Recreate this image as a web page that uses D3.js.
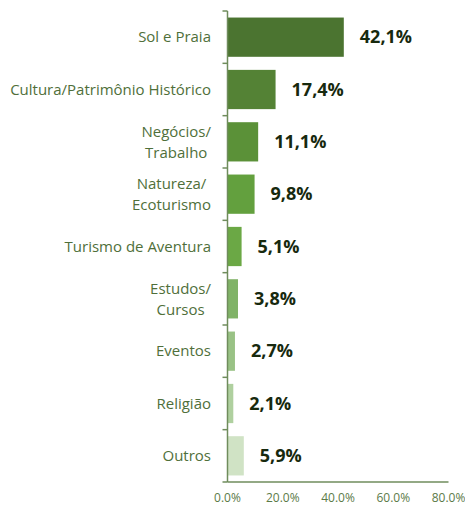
<!DOCTYPE html>
<html>
<head>
<meta charset="utf-8">
<script src="https://cdn.jsdelivr.net/npm/d3@7"></script>
<style>
  html, body { margin: 0; padding: 0; background: #fff; }
  svg { display: block; }
</style>
</head>
<body>
<svg id="chart" width="465" height="506"></svg>
<script>
// Motivação da viagem (% das respostas)
const categories = [
  ["Sol e Praia"],
  ["Cultura/Patrimônio Histórico"],
  ["Negócios/", "Trabalho"],
  ["Natureza/", "Ecoturismo"],
  ["Turismo de Aventura"],
  ["Estudos/", "Cursos"],
  ["Eventos"],
  ["Religião"],
  ["Outros"]
];
const values = [42.1, 17.4, 11.1, 9.8, 5.1, 3.8, 2.7, 2.1, 5.9];
const valueLabels = ["42,1%", "17,4%", "11,1%", "9,8%", "5,1%", "3,8%", "2,7%", "2,1%", "5,9%"];
const barColors = ["#4b7430", "#548235", "#5b9138", "#63a03e", "#6ba845",
                   "#80b367", "#99c285", "#afd09f", "#d0e3c5"];
const tickValues = [0, 20, 40, 60, 80];
const tickLabels = ["0.0%", "20.0%", "40.0%", "60.0%", "80.0%"];

const svg = d3.select("#chart");
const plotLeft = 227.5, plotRight = 448.5, plotTop = 11, plotBottom = 482;
const axisColor = "#6f8c5c";
const fontFamily = "'Open Sans', 'Noto Sans', sans-serif";

const x = d3.scaleLinear().domain([0, 80]).range([plotLeft, plotRight]);
const y = d3.scaleBand().domain(d3.range(categories.length))
  .range([plotTop, plotBottom]).paddingInner(0.25).paddingOuter(0.125);
const band = d3.scaleBand().domain(d3.range(categories.length)).range([plotTop, plotBottom]);

// bars
svg.append("g").selectAll("rect")
  .data(values)
  .join("rect")
  .attr("x", x(0) + 0.5)
  .attr("y", (d, i) => y(i))
  .attr("width", d => x(d) - x(0) - 0.5)
  .attr("height", y.bandwidth())
  .attr("fill", (d, i) => barColors[i]);

// category axis: line with ticks between categories
const gy = svg.append("g");
gy.append("line")
  .attr("x1", plotLeft).attr("x2", plotLeft)
  .attr("y1", plotTop).attr("y2", plotBottom)
  .attr("stroke", axisColor).attr("stroke-width", 1.5);
gy.selectAll("line.tick")
  .data(d3.range(categories.length + 1))
  .join("line")
  .attr("class", "tick")
  .attr("x1", plotLeft - 5).attr("x2", plotLeft)
  .attr("y1", i => i < categories.length ? band(i) : plotBottom)
  .attr("y2", i => i < categories.length ? band(i) : plotBottom)
  .attr("stroke", axisColor).attr("stroke-width", 1.5);

// value axis
const gx = svg.append("g");
gx.append("line")
  .attr("x1", plotLeft).attr("x2", plotRight)
  .attr("y1", plotBottom).attr("y2", plotBottom)
  .attr("stroke", axisColor).attr("stroke-width", 1.5);
gx.selectAll("text")
  .data(tickValues)
  .join("text")
  .attr("x", d => x(d))
  .attr("y", 502)
  .attr("text-anchor", "middle")
  .attr("font-family", fontFamily)
  .attr("font-size", 12)
  .attr("fill", "#5b7a48")
  .text((d, i) => tickLabels[i]);

// category labels (multi-line blocks centred on their widest line, block right-aligned)
const labelRight = 211;
const lineGap = 21;
categories.forEach((lines, i) => {
  const cy = band(i) + band.bandwidth() / 2;
  const g = svg.append("g");
  const texts = lines.map((line, k) => g.append("text")
    .attr("y", cy + (k - (lines.length - 1) / 2) * lineGap)
    .attr("dy", "0.35em")
    .attr("font-family", fontFamily)
    .attr("font-size", 15)
    .attr("fill", "#4f6f3a")
    .text(line));
  const w = d3.max(texts, t => t.node().getComputedTextLength());
  texts.forEach(t => t.attr("text-anchor", "middle").attr("x", labelRight - w / 2));
});

// value labels
svg.append("g").selectAll("text")
  .data(values)
  .join("text")
  .attr("x", d => x(d) + 16)
  .attr("y", (d, i) => y(i) + y.bandwidth() / 2)
  .attr("dy", "0.35em")
  .attr("font-family", fontFamily)
  .attr("font-size", 18)
  .attr("font-weight", "bold")
  .attr("fill", "#17290e")
  .text((d, i) => valueLabels[i]);
</script>
</body>
</html>
